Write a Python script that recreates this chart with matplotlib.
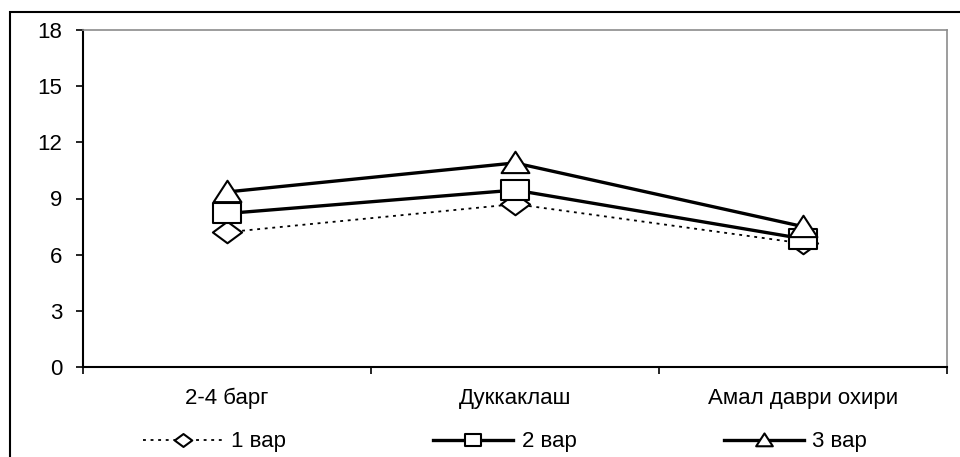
import matplotlib
matplotlib.use("Agg")
import matplotlib.pyplot as plt
from matplotlib.patches import Rectangle
from matplotlib.path import Path

plt.rcParams['font.family'] = ['Liberation Sans', 'DejaVu Sans']

categories = ["2-4 барг", "Дуккаклаш", "Амал даври охири"]
series_names = ["1 вар", "2 вар", "3 вар"]
var1 = [7.2, 8.7, 6.6]
var2 = [8.2, 9.45, 6.85]
var3 = [9.35, 10.9, 7.5]
yticks = [0, 3, 6, 9, 12, 15, 18]

# wide (horizontally stretched) marker shapes like the reference
sq = Path([(-0.65, -0.5), (0.65, -0.5), (0.65, 0.5), (-0.65, 0.5), (-0.65, -0.5)],
          [Path.MOVETO, Path.LINETO, Path.LINETO, Path.LINETO, Path.CLOSEPOLY])
tri = Path([(-0.65, -0.45), (0.65, -0.45), (0.0, 0.55), (-0.65, -0.45)],
           [Path.MOVETO, Path.LINETO, Path.LINETO, Path.CLOSEPOLY])
dia = Path([(-0.65, 0.0), (0.0, -0.48), (0.65, 0.0), (0.0, 0.48), (-0.65, 0.0)],
           [Path.MOVETO, Path.LINETO, Path.LINETO, Path.LINETO, Path.CLOSEPOLY])

fig = plt.figure(figsize=(9.6, 4.57), dpi=100)
ax = fig.add_axes([83/960, 1-367/457, (947-83)/960, (367-30)/457])

x = list(range(len(categories)))
ax.plot(x, var1, color='black', lw=1.3, ls=(0, (1.6, 2.6)), marker=dia, ms=21,
        mfc='white', mec='black', mew=1.5, label=series_names[0], zorder=3)
ax.plot(x, var2, color='black', lw=2.4, ls='-', marker=sq, ms=19.5,
        mfc='white', mec='black', mew=1.5, label=series_names[1], zorder=4)
ax.plot(x, var3, color='black', lw=2.4, ls='-', marker=tri, ms=20,
        mfc='white', mec='black', mew=1.5, label=series_names[2], zorder=5)

ax.set_xlim(-0.5, len(categories)-0.5)
ax.set_ylim(0, 18)
ax.set_yticks(yticks)
ax.set_yticklabels([str(v) for v in yticks])
ax.set_xticks([i-0.5 for i in range(len(categories)+1)])
ax.set_xticklabels([])
ax.set_xticks(x, minor=True)
ax.set_xticklabels(categories, minor=True)
ax.tick_params(axis='x', which='major', direction='out', length=5, width=1.2, color='black')
ax.tick_params(axis='x', which='minor', length=0, pad=15, labelsize=16)
ax.tick_params(axis='y', direction='out', length=5, width=1.2, pad=10, labelsize=16)

for s in ['top', 'right']:
    ax.spines[s].set_color('#8c8c8c')
    ax.spines[s].set_linewidth(1.2)
for s in ['left', 'bottom']:
    ax.spines[s].set_color('black')
    ax.spines[s].set_linewidth(1.5)

leg = fig.legend(loc='center', bbox_to_anchor=(0.526, 1-442/457), ncol=3,
                 frameon=False, fontsize=16, handlelength=3.6, handletextpad=0.4,
                 columnspacing=6.6, markerscale=0.6)

fig.patches.append(Rectangle((10/960, -0.1), 1.2, 0.1 + (457-12)/457,
                             transform=fig.transFigure, fill=False,
                             edgecolor='black', lw=1.5, clip_on=False))

fig.savefig("out.png", dpi=100)
